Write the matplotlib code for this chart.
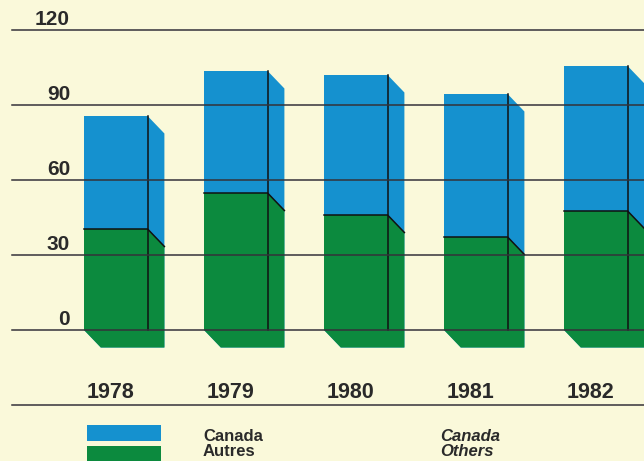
import numpy as np
from matplotlib import pyplot as plt
from matplotlib.patches import Polygon, Rectangle

# data
years = ['1978', '1979', '1980', '1981', '1982']
others = [40.4, 54.8, 46.0, 37.2, 47.6]   # green, bottom segment
canada = [45.2, 48.8, 56.0, 57.2, 58.0]   # blue, stacked on top
yticks = [0, 30, 60, 90, 120]
legend_fr = ['Canada', 'Autres']
legend_en = ['Canada', 'Others']

BG = '#faf9da'
BLUE = '#1591cf'
GREEN = '#0c8a3e'
LINE = '#34323a'
TEXT = '#2a2a2a'

plt.rcParams['font.family'] = ['Liberation Sans', 'DejaVu Sans']

fig = plt.figure(figsize=(6.44, 4.61), dpi=100)
fig.patch.set_facecolor(BG)
ax = fig.add_axes([0, 0, 1, 1])
ax.set_facecolor(BG)
ax.set_xlim(-0.96, -0.96 + 644 / 120.)
ax.set_ylim(-52.4, 132)
ax.axis('off')

w = 0.53    # front face width
dx = 0.14   # depth offset (x)
dy = 7.0    # depth offset (value units)


def box(left, y0, y1, color):
    r = left + w
    pts = [(left, y1), (r, y1), (r + dx, y1 - dy), (r + dx, y0 - dy),
           (left + dx, y0 - dy), (left, y0)]
    ax.add_patch(Polygon(pts, closed=True, fc=color, ec='none', zorder=2))


for i, (g, c) in enumerate(zip(others, canada)):
    left = i - 0.26
    r = left + w
    top = g + c
    box(left, 0, top, BLUE)
    box(left, 0, g, GREEN)
    # edges
    ax.plot([left, r, r + dx], [g, g, g - dy], color='#111111', lw=1.1, zorder=3)
    ax.plot([r, r], [0, top], color='#111111', lw=1.1, zorder=3)
    ax.text(left + 26 / 120., -27.2, years[i], ha='center', va='baseline',
            fontsize=15.5, fontweight='bold', color=TEXT)

# gridlines on top of the bars
x0, x1 = -0.96 + 12 / 120., -0.96 + 644 / 120.
for t in yticks:
    ax.plot([x0, x1], [t, t], color=LINE, lw=1.1, zorder=4)
    ax.text(-0.96 + 70 / 120., t + 2, str(t), ha='right', va='baseline',
            fontsize=15, fontweight='bold', color=TEXT)
ax.plot([x0, x1], [-30, -30], color=LINE, lw=1.1, zorder=4)

# legend
lx = -0.96 + 87 / 120.
ax.add_patch(Rectangle((lx, -44.4), 74 / 120., 6.4, fc=BLUE, ec='none'))
ax.add_patch(Rectangle((lx, -53), 74 / 120., 6.6, fc=GREEN, ec='none'))
for k in range(2):
    yb = -44.4 - k * 6.0
    ax.text(-0.96 + 203 / 120., yb, legend_fr[k], ha='left', va='baseline',
            fontsize=12, fontweight='bold', color=TEXT)
    ax.text(-0.96 + 440 / 120., yb, legend_en[k], ha='left', va='baseline',
            fontsize=12, fontweight='bold', fontstyle='italic', color=TEXT)

fig.savefig('out.png', dpi=100, facecolor=BG)
